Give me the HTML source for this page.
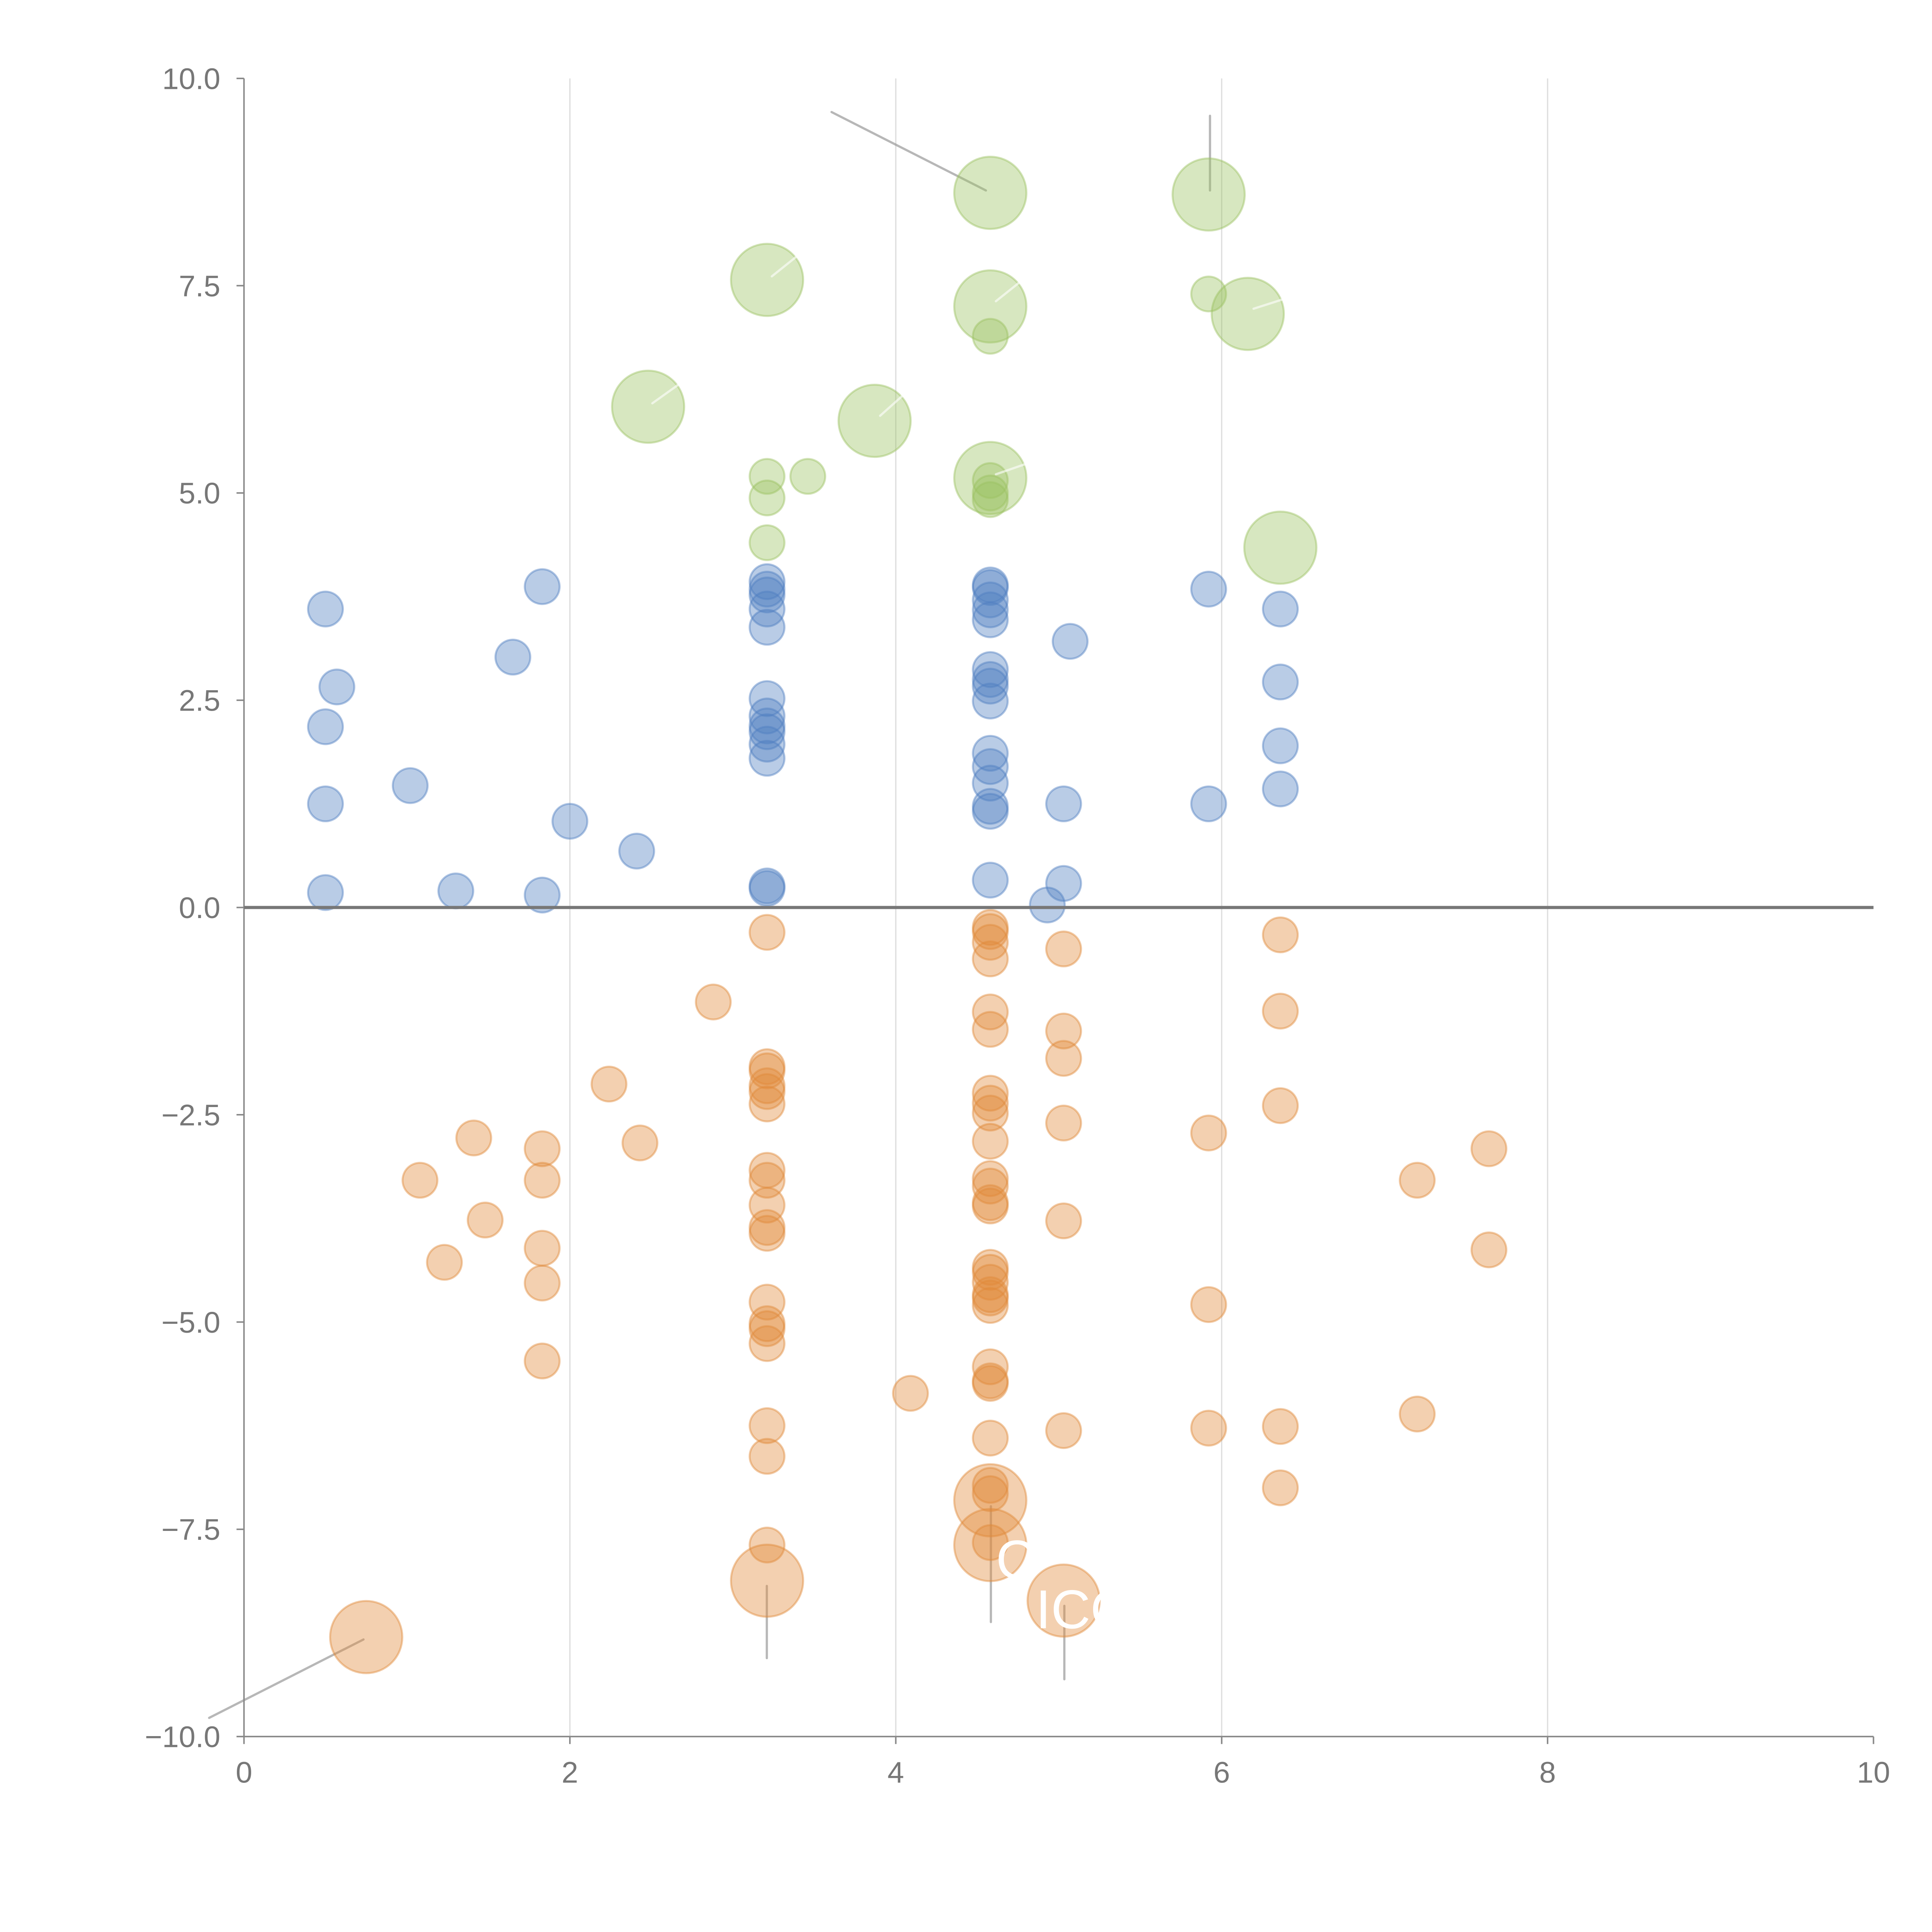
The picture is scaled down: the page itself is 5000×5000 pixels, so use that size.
<!DOCTYPE html>
<html><head><meta charset="utf-8"><style>
html,body{margin:0;padding:0;background:#fff;}
svg{display:block;}
text{font-family:"Liberation Sans",Arial,sans-serif;}
</style></head><body>
<svg id="chart" width="5000" height="5000" viewBox="0 0 1552 1552" xmlns="http://www.w3.org/2000/svg">
<g id="grid"></g>
<g id="annot"></g>
<g id="pts"></g>
<g id="axes"></g>
<g id="labels">
<text x="800" y="1268" fill="#fff" font-size="44">C</text>
<text x="832" y="1308" fill="#fff" font-size="44">ICO</text>
</g>
</svg>
<script>
const xTicks=[0,2,4,6,8,10];
const yTicks=[-10,-7.5,-5,-2.5,0,2.5,5,7.5,10];
const blueX=[0.5,0.57,0.5,0.5,0.5,1.02,1.3,1.65,1.83,1.83,2.0,2.41,
3.21,3.21,3.21,3.21,3.21,3.21,3.21,3.21,3.21,3.21,3.21,3.21,3.21,
4.58,4.58,4.58,4.58,4.58,4.58,4.58,4.58,4.58,4.58,4.58,4.58,4.58,4.58,4.58,
4.93,5.03,5.03,5.07,5.92,5.92,6.36,6.36,6.36,6.36];
const blueY=[3.6,2.66,2.18,1.25,0.18,1.47,0.2,3.02,3.87,0.15,1.04,0.68,
3.93,3.84,3.77,3.6,3.38,2.52,2.31,2.19,2.12,1.97,1.8,0.26,0.23,
3.89,3.86,3.71,3.59,3.47,2.87,2.75,2.67,2.49,1.86,1.7,1.5,1.22,1.16,0.33,
0.03,1.25,0.29,3.21,3.84,1.25,3.6,2.72,1.95,1.43];
const greenX=[2.48,3.21,3.87,4.58,4.58,4.58,4.58,4.58,4.58,4.58,5.92,5.92,6.16,6.36,3.21,3.21,3.21,3.46];
const greenY=[6.04,7.57,5.87,8.62,7.25,5.18,6.89,5.15,5.0,4.92,8.6,7.4,7.16,4.34,5.2,4.94,4.4,5.2];
const greenBig=[1,1,1,1,1,1,0,0,0,0,1,0,1,1,0,0,0,0];
const orangeX=[0.75,1.08,1.23,1.41,1.48,1.83,1.83,1.83,1.83,1.83,2.24,2.43,2.88,
3.21,3.21,3.21,3.21,3.21,3.21,3.21,3.21,3.21,3.21,3.21,3.21,3.21,3.21,3.21,3.21,3.21,3.21,3.21,
4.09,
4.58,4.58,4.58,4.58,4.58,4.58,4.58,4.58,4.58,4.58,4.58,4.58,4.58,4.58,4.58,4.58,4.58,4.58,4.58,4.58,4.58,4.58,4.58,4.58,4.58,4.58,4.58,4.58,4.58,
5.03,5.03,5.03,5.03,5.03,5.03,5.03,
5.92,5.92,5.92,6.36,6.36,6.36,6.36,6.36,7.2,7.2,7.64,7.64];
const orangeY=[-8.8,-3.29,-4.28,-2.78,-3.77,-2.91,-3.29,-4.11,-4.53,-5.47,-2.13,-2.84,-1.14,
-0.3,-1.92,-1.97,-2.15,-2.22,-2.37,-3.17,-3.29,-3.59,-3.86,-3.93,-4.76,-5.02,-5.08,-5.26,-6.25,-6.62,-7.69,-8.12,
-5.86,
-0.24,-0.29,-0.42,-0.62,-1.26,-1.47,-2.24,-2.36,-2.48,-2.82,-3.27,-3.36,-3.56,-3.6,-4.34,-4.4,-4.52,-4.67,-4.71,-4.8,-5.54,-5.71,-5.74,-6.4,-6.97,-7.07,-7.66,-7.15,-7.69,
-8.36,-0.5,-1.49,-1.82,-2.6,-3.78,-6.31,
-2.72,-4.79,-6.28,-0.33,-1.25,-2.39,-6.26,-7.0,-3.29,-6.11,-2.91,-4.13];
const orangeBig=[1,0,0,0,0,0,0,0,0,0,0,0,0,
0,0,0,0,0,0,0,0,0,0,0,0,0,0,0,0,0,0,1,
0,
0,0,0,0,0,0,0,0,0,0,0,0,0,0,0,0,0,0,0,0,0,0,0,0,0,0,0,1,1,
1,0,0,0,0,0,0,
0,0,0,0,0,0,0,0,0,0,0,0];

const NS="http://www.w3.org/2000/svg";
const X0=196,X1=1505,Y0=1395,Y1=63;
function sx(v){return X0+(v-0)/(10-0)*(X1-X0);}
function sy(v){return Y0-(v+10)/20*(Y0-Y1);}
function mk(tag,attrs,parent){const e=document.createElementNS(NS,tag);for(const k in attrs)e.setAttribute(k,attrs[k]);parent.appendChild(e);return e;}
const grid=document.getElementById('grid'),axes=document.getElementById('axes'),pts=document.getElementById('pts'),annot=document.getElementById('annot');

xTicks.forEach(t=>{
  if(t>0&&t<10){const l=mk('line',{x1:sx(t),x2:sx(t),y1:Y1,y2:Y0,stroke:'#dddddd','stroke-width':1},grid);
  
  }
  const tk=mk('line',{x1:sx(t),x2:sx(t),y1:Y0,y2:Y0+6,stroke:'#888','stroke-width':1.2},axes);
  
  
  const tx=mk('text',{x:sx(t),y:Y0+37,'text-anchor':'middle','font-size':24,fill:'#777'},axes);
  tx.textContent=String(t);
  
  
});
yTicks.forEach(t=>{
  const tk=mk('line',{x1:X0-6,x2:X0,y1:sy(t),y2:sy(t),stroke:'#888','stroke-width':1.2},axes);
  
  
  const tx=mk('text',{x:X0-19,y:sy(t)+8.5,'text-anchor':'end','font-size':24,fill:'#777'},axes);
  tx.textContent=t.toFixed(1).replace('-','\u2212');
  
  
});
let a=mk('line',{x1:X0,x2:X0,y1:Y1,y2:Y0,stroke:'#888','stroke-width':1.2},axes);


a=mk('line',{x1:X0,x2:X1,y1:Y0,y2:Y0,stroke:'#888','stroke-width':1.2},axes);


a=mk('line',{x1:X0,x2:X1,y1:sy(0),y2:sy(0),stroke:'#777','stroke-width':2.5},axes);



function draw(xs,ys,big,color,name){
  xs.forEach((x,i)=>{
    const c=mk('circle',{cx:sx(x),cy:sy(ys[i]),r:(big&&big[i])?29:14,fill:color,'fill-opacity':0.4,stroke:color,'stroke-opacity':0.45,'stroke-width':1.6},pts);
    
    
  });
}
draw(blueX,blueY,null,'#4f7fc0','blue-bubble');
draw(greenX,greenY,greenBig,'#9cc261','green-bubble');
draw(orangeX,orangeY,orangeBig,'#e0893a','orange-bubble');

[[668,90,792,153],[972,93,972,153],[168,1380,292,1317],[616,1274,616,1332],[796,1210,796,1303],[855,1290,855,1349]].forEach(s=>{
  const l=mk('line',{x1:s[0],y1:s[1],x2:s[2],y2:s[3],stroke:'#999','stroke-opacity':0.7,'stroke-width':1.8,'stroke-linecap':'round'},annot);
  
  
});
[[524,324,545,309],[620,222,640,206],[707,334,726,317],[800,242,820,226],[800,381,826,372],[1007,248,1032,240]].forEach(s=>{
  const l=mk('line',{x1:s[0],y1:s[1],x2:s[2],y2:s[3],stroke:'#fff','stroke-opacity':0.6,'stroke-width':1.8,'stroke-linecap':'round'},pts);
  
  
});
</script>
</body></html>
